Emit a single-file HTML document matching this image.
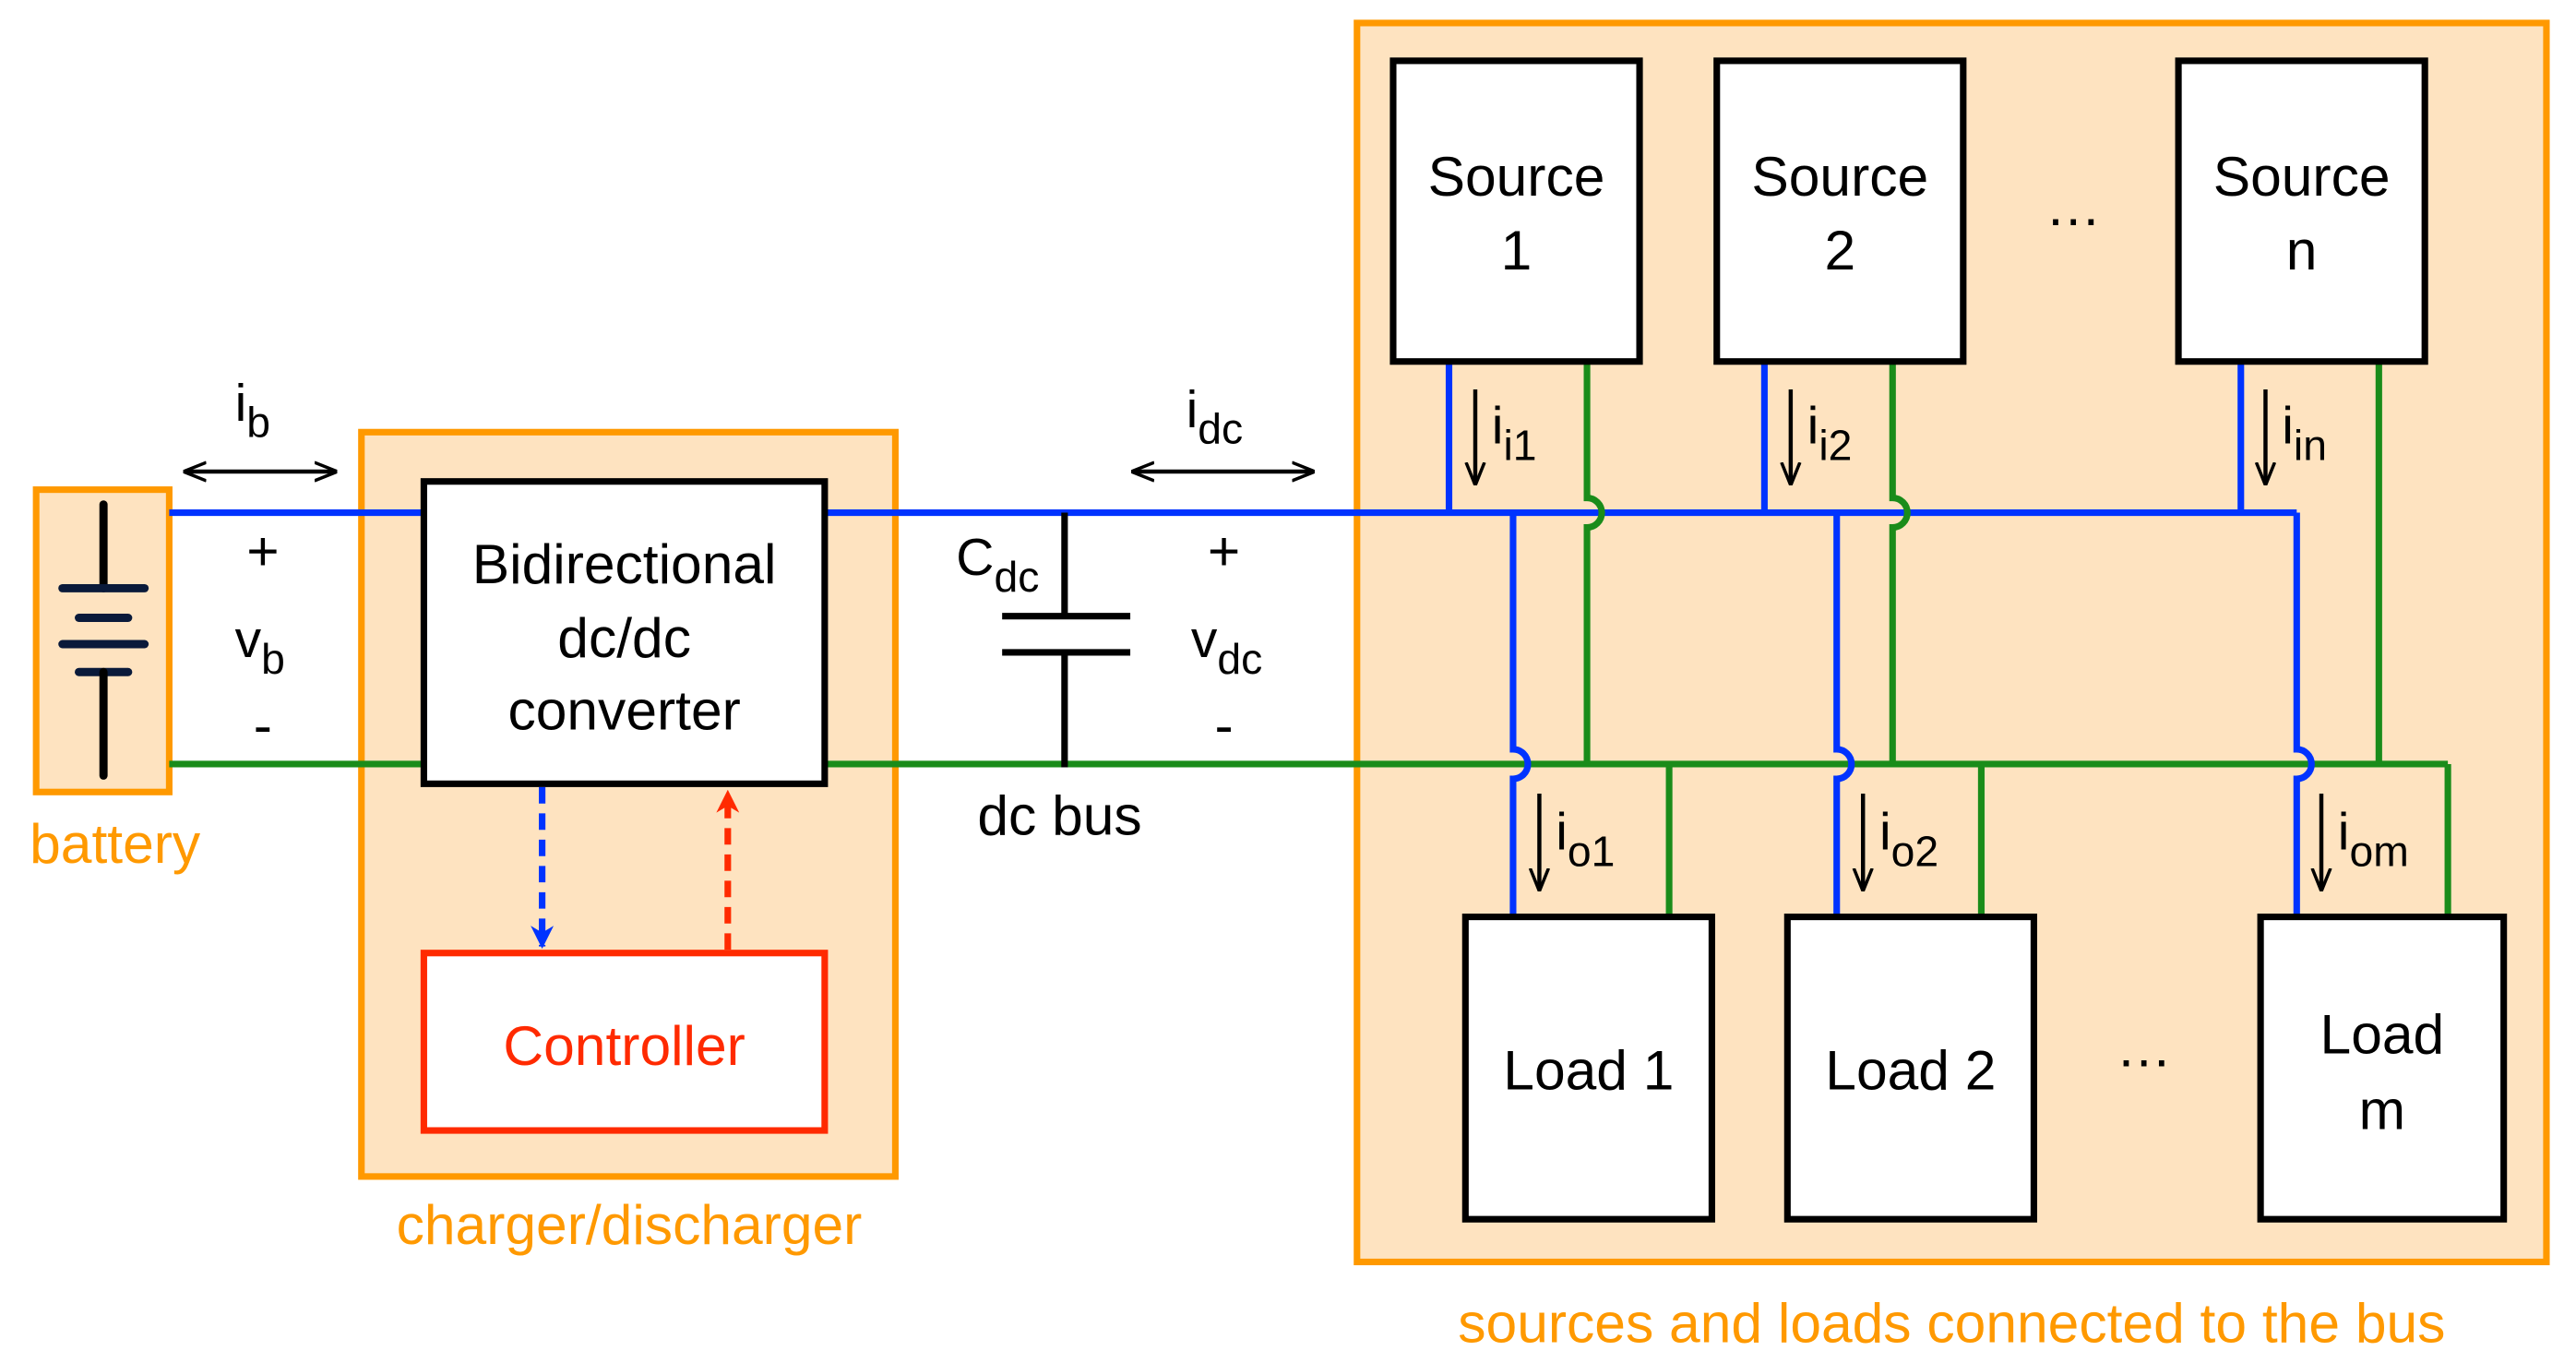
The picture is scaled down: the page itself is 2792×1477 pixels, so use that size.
<!DOCTYPE html>
<html><head><meta charset="utf-8"><style>
html,body{margin:0;padding:0;background:#fff;}
svg{display:block;}
text{font-family:"Liberation Sans",Arial,sans-serif;}
</style></head><body>
<svg width="2792" height="1477" viewBox="0 0 1568 829.5" preserveAspectRatio="none" xmlns="http://www.w3.org/2000/svg">
<defs>
<marker id="ah" viewBox="0 0 10 10" refX="9" refY="5" markerWidth="14" markerHeight="14" orient="auto-start-reverse" markerUnits="userSpaceOnUse">
<path d="M0,1 L10,5 L0,9" fill="none" stroke="#000" stroke-width="1.4"/></marker>
<marker id="ab" viewBox="0 0 10 10" refX="9" refY="5" markerWidth="14" markerHeight="14" orient="auto" markerUnits="userSpaceOnUse"><path d="M0,0 L10,5 L0,10 L3,5z" fill="#0033FF"/></marker>
<marker id="ar" viewBox="0 0 10 10" refX="9" refY="5" markerWidth="14" markerHeight="14" orient="auto" markerUnits="userSpaceOnUse"><path d="M0,0 L10,5 L0,10 L3,5z" fill="#FF2A00"/></marker>
</defs>
<g stroke="#FF9900" stroke-width="4" fill="#FEE3C0">
<rect x="22" y="298" width="81" height="184"/>
<rect x="220" y="263" width="325" height="453"/>
<rect x="826" y="14" width="724" height="754"/>
</g>
<g fill="#FF9900" font-size="34" text-anchor="middle">
<text x="70" y="525">battery</text>
<text x="383" y="757">charger/discharger</text>
<text x="1188" y="817">sources and loads connected to the bus</text>
</g>
<g stroke="#000" stroke-width="5" stroke-linecap="round">
<line x1="63" y1="307" x2="63" y2="358"/>
<line x1="38" y1="358" x2="88" y2="358" stroke="#0a1a3a"/>
<line x1="48" y1="376" x2="78" y2="376" stroke="#0a1a3a"/>
<line x1="38" y1="392" x2="88" y2="392" stroke="#0a1a3a"/>
<line x1="48" y1="409" x2="78" y2="409" stroke="#0a1a3a"/>
<line x1="63" y1="409" x2="63" y2="472"/>
</g>
<g fill="none" stroke-width="4">
<path d="M103,312 H258 M502,312 H1398" stroke="#0033FF"/>
<path d="M103,465 H258 M502,465 H1490" stroke="#1A8C1A"/>
<path d="M882,220 V312 M1074,220 V312 M1364,220 V312" stroke="#0033FF"/>
<path d="M966,220 V303 a9,9 0 0 1 0,18 V465 M1152,220 V303 a9,9 0 0 1 0,18 V465 M1448,220 V465" stroke="#1A8C1A"/>
<path d="M921,312 V456 a9,9 0 0 1 0,18 V558 M1118,312 V456 a9,9 0 0 1 0,18 V558 M1398,312 V456 a9,9 0 0 1 0,18 V558" stroke="#0033FF"/>
<path d="M1016,465 V558 M1206,465 V558 M1490,465 V558" stroke="#1A8C1A"/>
</g>
<g stroke="#000" stroke-width="4">
<line x1="648" y1="312" x2="648" y2="375"/>
<line x1="610" y1="375" x2="688" y2="375"/>
<line x1="610" y1="397" x2="688" y2="397"/>
<line x1="648" y1="397" x2="648" y2="467"/>
</g>
<g stroke="#000" stroke-width="4" fill="#fff">
<rect x="258" y="293" width="244" height="184"/>
<rect x="848" y="37" width="150" height="183"/>
<rect x="1045" y="37" width="150" height="183"/>
<rect x="1326" y="37" width="150" height="183"/>
<rect x="892" y="558" width="150" height="184"/>
<rect x="1088" y="558" width="150" height="184"/>
<rect x="1376" y="558" width="148" height="184"/>
</g>
<rect x="258" y="580" width="244" height="108" stroke="#FF2A00" stroke-width="4" fill="#fff"/>
<line x1="330" y1="479" x2="330" y2="576" stroke="#0033FF" stroke-width="4" stroke-dasharray="10,6" marker-end="url(#ab)"/>
<line x1="443" y1="578" x2="443" y2="482" stroke="#FF2A00" stroke-width="4" stroke-dasharray="10,6" marker-end="url(#ar)"/>
<g stroke="#000" stroke-width="2.5" marker-start="url(#ah)" marker-end="url(#ah)">
<line x1="113" y1="287" x2="204" y2="287"/>
<line x1="690" y1="287" x2="799" y2="287"/>
</g>
<g stroke="#000" stroke-width="2.5" marker-end="url(#ah)">
<line x1="898" y1="237" x2="898" y2="294"/>
<line x1="1090" y1="237" x2="1090" y2="294"/>
<line x1="1379" y1="237" x2="1379" y2="294"/>
<line x1="937" y1="483" x2="937" y2="541"/>
<line x1="1134" y1="483" x2="1134" y2="541"/>
<line x1="1413" y1="483" x2="1413" y2="541"/>
</g>
<g font-size="34" text-anchor="middle" fill="#000">
<text x="380" y="355">Bidirectional</text>
<text x="380" y="400">dc/dc</text>
<text x="380" y="444">converter</text>
<text x="923" y="119">Source</text><text x="923" y="164">1</text>
<text x="1120" y="119">Source</text><text x="1120" y="164">2</text>
<text x="1401" y="119">Source</text><text x="1401" y="164">n</text>
<text x="967" y="663">Load 1</text>
<text x="1163" y="663">Load 2</text>
<text x="1450" y="641">Load</text><text x="1450" y="687">m</text>
<text x="1262" y="137">…</text>
<text x="1305" y="649">…</text>
<text x="645" y="508">dc bus</text>
<text x="160" y="347">+</text>
<text x="160" y="453">-</text>
<text x="745" y="347">+</text>
<text x="745" y="453">-</text>
</g>
<text x="380" y="648" font-size="34" text-anchor="middle" fill="#FF2A00">Controller</text>
<g font-size="32" fill="#000">
<text x="143" y="256">i<tspan font-size="26" dy="10">b</tspan></text>
<text x="722" y="260">i<tspan font-size="26" dy="10">dc</tspan></text>
<text x="143" y="400">v<tspan font-size="26" dy="10">b</tspan></text>
<text x="725" y="400">v<tspan font-size="26" dy="10">dc</tspan></text>
<text x="582" y="350">C<tspan font-size="26" dy="10">dc</tspan></text>
<text x="908" y="270">i<tspan font-size="26" dy="10">i1</tspan></text>
<text x="1100" y="270">i<tspan font-size="26" dy="10">i2</tspan></text>
<text x="1389" y="270">i<tspan font-size="26" dy="10">in</tspan></text>
<text x="947" y="517">i<tspan font-size="26" dy="10">o1</tspan></text>
<text x="1144" y="517">i<tspan font-size="26" dy="10">o2</tspan></text>
<text x="1423" y="517">i<tspan font-size="26" dy="10">om</tspan></text>
</g>
</svg>
</body></html>
